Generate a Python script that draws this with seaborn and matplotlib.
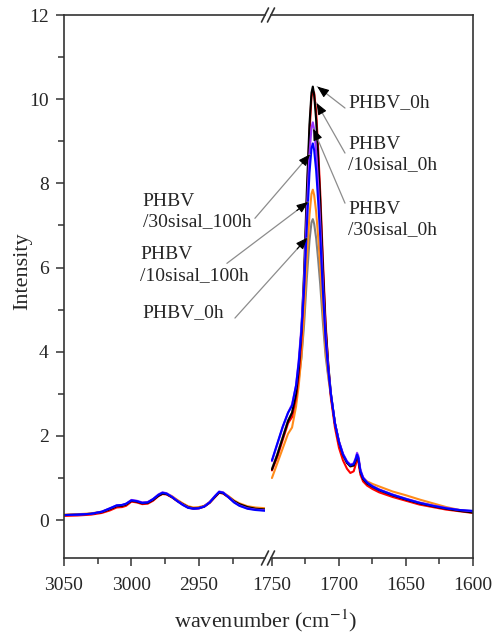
import numpy as np
import pandas as pd
import seaborn as sns
import matplotlib.pyplot as plt
from matplotlib.ticker import MultipleLocator
from matplotlib.lines import Line2D

sns.set_style("ticks")
plt.rcParams["font.family"] = ["Liberation Serif", "DejaVu Serif"]
plt.rcParams["mathtext.fontset"] = "stix"
plt.rcParams["font.size"] = 14

# wavenumber grids for the two parts of the broken axis
left_wn = [3050, 3040, 3030, 3022, 3016, 3011, 3007, 3004, 3000, 2996, 2992, 2988,
           2984, 2980, 2977, 2974, 2970, 2966, 2962, 2958, 2954, 2950, 2946, 2942,
           2938, 2935, 2932, 2928, 2924, 2920, 2914, 2908, 2900]
right_wn = [1750, 1746, 1742, 1738, 1735, 1732, 1730, 1728, 1726, 1724, 1722, 1720.5,
            1719.5, 1718.5, 1717, 1715.5, 1714, 1712, 1710, 1708, 1706, 1703, 1700,
            1697, 1694, 1691.5, 1689, 1687.5, 1686.5, 1685.5, 1684, 1682, 1679, 1675,
            1670, 1660, 1650, 1640, 1630, 1620, 1610, 1600]

# intensities, C-H region
gray_left = [0.12, 0.13, 0.15, 0.19, 0.26, 0.32, 0.34, 0.37, 0.45, 0.43, 0.40, 0.41, 0.48, 0.58, 0.63, 0.62, 0.55,
             0.46, 0.38, 0.31, 0.28, 0.29, 0.33, 0.42, 0.55, 0.65, 0.64, 0.55, 0.45, 0.38, 0.31, 0.27, 0.25]
orange_left = [0.13, 0.14, 0.16, 0.20, 0.27, 0.33, 0.35, 0.38, 0.46, 0.44, 0.41, 0.42, 0.49, 0.59, 0.64, 0.63, 0.57,
               0.48, 0.40, 0.33, 0.30, 0.31, 0.34, 0.43, 0.56, 0.66, 0.65, 0.57, 0.47, 0.40, 0.33, 0.30, 0.28]
red_left = [0.10, 0.11, 0.13, 0.17, 0.23, 0.30, 0.31, 0.34, 0.44, 0.42, 0.38, 0.39, 0.46, 0.57, 0.62, 0.61, 0.54,
            0.45, 0.37, 0.30, 0.27, 0.28, 0.32, 0.41, 0.55, 0.65, 0.63, 0.54, 0.44, 0.37, 0.30, 0.26, 0.24]
black_left = [0.12, 0.13, 0.15, 0.19, 0.26, 0.33, 0.34, 0.37, 0.46, 0.44, 0.40, 0.41, 0.48, 0.58, 0.63, 0.62, 0.55,
              0.46, 0.38, 0.31, 0.28, 0.29, 0.33, 0.42, 0.56, 0.66, 0.64, 0.55, 0.45, 0.38, 0.31, 0.27, 0.25]
purple_left = [0.12, 0.13, 0.15, 0.20, 0.28, 0.35, 0.36, 0.39, 0.48, 0.46, 0.42, 0.43, 0.50, 0.61, 0.66, 0.64, 0.56,
               0.46, 0.37, 0.30, 0.27, 0.28, 0.33, 0.43, 0.58, 0.68, 0.66, 0.55, 0.43, 0.35, 0.28, 0.25, 0.23]
blue_left = [0.12, 0.13, 0.15, 0.20, 0.28, 0.35, 0.36, 0.39, 0.47, 0.45, 0.41, 0.42, 0.50, 0.60, 0.65, 0.63, 0.55,
             0.45, 0.36, 0.29, 0.27, 0.28, 0.32, 0.42, 0.57, 0.67, 0.65, 0.54, 0.42, 0.34, 0.27, 0.24, 0.22]

# intensities, carbonyl region
gray_right = [1.22, 1.57, 1.97, 2.37, 2.55, 2.95, 3.34, 3.85, 4.65, 5.73, 6.64, 7.07, 7.15, 7.04, 6.69, 6.18, 5.61,
              4.7, 3.9, 3.4, 2.95, 2.3, 1.85, 1.55, 1.36, 1.29, 1.31, 1.43, 1.53, 1.46, 1.16, 0.99, 0.88, 0.8,
              0.72, 0.6, 0.5, 0.41, 0.34, 0.28, 0.23, 0.19]
orange_right = [1.00, 1.35, 1.7, 2.05, 2.2, 2.7, 3.2, 3.9, 4.9, 6.19, 7.25, 7.75, 7.85, 7.72, 7.32, 6.72, 6.06,
                5.0, 4.06, 3.46, 2.95, 2.3, 1.85, 1.55, 1.37, 1.27, 1.29, 1.4, 1.5, 1.44, 1.15, 1.0, 0.92, 0.86,
                0.8, 0.68, 0.59, 0.49, 0.4, 0.31, 0.24, 0.19]
red_right = [1.18, 1.5, 1.9, 2.3, 2.45, 2.9, 3.45, 4.3, 5.6, 7.5, 9.2, 10.05, 10.2, 10.15, 9.7, 8.8, 7.8,
             6.2, 4.7, 3.7, 2.9, 2.2, 1.72, 1.42, 1.22, 1.12, 1.16, 1.32, 1.45, 1.38, 1.08, 0.92, 0.82, 0.74,
             0.66, 0.55, 0.46, 0.37, 0.31, 0.25, 0.21, 0.17]
black_right = [1.20, 1.55, 1.95, 2.35, 2.55, 3.0, 3.6, 4.5, 5.9, 7.8, 9.4, 10.15, 10.3, 10.1, 9.5, 8.6, 7.6,
               6.0, 4.6, 3.7, 3.0, 2.3, 1.85, 1.55, 1.36, 1.28, 1.3, 1.42, 1.52, 1.45, 1.15, 0.98, 0.87, 0.79,
               0.71, 0.59, 0.49, 0.40, 0.33, 0.27, 0.22, 0.18]
purple_right = [1.40, 1.8, 2.2, 2.55, 2.75, 3.2, 3.8, 4.6, 5.7, 7.3, 8.7, 9.32, 9.45, 9.28, 8.75, 7.95, 7.07,
                5.65, 4.41, 3.62, 3.0, 2.3, 1.88, 1.58, 1.40, 1.32, 1.35, 1.48, 1.60, 1.52, 1.2, 1.02, 0.9, 0.81,
                0.73, 0.61, 0.51, 0.42, 0.35, 0.29, 0.24, 0.21]
blue_right = [1.42, 1.82, 2.22, 2.55, 2.72, 3.2, 3.75, 4.5, 5.5, 6.95, 8.25, 8.83, 8.95, 8.79, 8.3, 7.57, 6.75,
              5.45, 4.3, 3.57, 3.0, 2.3, 1.86, 1.56, 1.38, 1.30, 1.33, 1.45, 1.56, 1.48, 1.17, 1.0, 0.89, 0.8,
              0.72, 0.6, 0.5, 0.41, 0.34, 0.28, 0.24, 0.22]

series = [
    ("gray", "#808080", gray_left, gray_right),
    ("orange", "#ff8c1a", orange_left, orange_right),
    ("red", "#ff0000", red_left, red_right),
    ("black", "#000000", black_left, black_right),
    ("purple", "#9933ff", purple_left, purple_right),
    ("blue", "#0000ff", blue_left, blue_right),
]

# label text, arrow tip (wn, I), arrow tail (wn, I), text anchor (wn, I)
labels = ["PHBV_0h", "PHBV\n/10sisal_0h", "PHBV\n/30sisal_0h",
          "PHBV\n/30sisal_100h", "PHBV\n/10sisal_100h", "PHBV_0h"]
tips = [(1716.2, 10.3), (1716.7, 9.91), (1719.2, 9.3), (1721.6, 8.69), (1722.9, 7.56), (1723.6, 6.71)]
tails = [(1695.5, 9.79), (1695.5, 8.72), (1695.5, 7.53), (1762.7, 7.17), (1783.6, 6.10), (1777.6, 4.8)]
text_pos = [(1693.3, 9.93), (1693.3, 8.69), (1693.0, 7.13), (1846.3, 7.32), (1848.5, 6.06), (1846.3, 4.92)]

W, H = 493, 637
fig = plt.figure(figsize=(W / 100, H / 100), dpi=100)
bot = (H - 558) / H
hgt = (558 - 15) / H
ax1 = fig.add_axes([64 / W, bot, (265 - 64) / W, hgt])
ax2 = fig.add_axes([271 / W, bot, (473 - 271) / W, hgt], sharey=ax1)

for name, col, yl, yr in series:
    sns.lineplot(x=left_wn, y=yl, ax=ax1, color=col, lw=1.5, sort=False, estimator=None)
    sns.lineplot(x=right_wn, y=yr, ax=ax2, color=col, lw=1.5, sort=False, estimator=None)

ax1.set_xlim(3050, 2901)
ax2.set_xlim(1750.7, 1600)
ax1.set_ylim(-0.9, 12)
ax1.set_xticks([3050, 3000, 2950])
ax2.set_xticks([1750, 1700, 1650, 1600])
ax1.xaxis.set_minor_locator(MultipleLocator(25))
ax2.xaxis.set_minor_locator(MultipleLocator(25))
ax1.set_yticks([0, 2, 4, 6, 8, 10, 12])
ax1.yaxis.set_minor_locator(MultipleLocator(1))

spine_col = "#333333"
for ax in (ax1, ax2):
    for s in ax.spines.values():
        s.set_color(spine_col)
        s.set_linewidth(1.2)
    ax.tick_params(which="major", direction="out", length=6, width=1.1, color=spine_col,
                   labelsize=14, pad=5)
    ax.tick_params(which="minor", direction="out", length=4, width=1.1, color=spine_col)
    ax.tick_params(axis="x", which="major", length=5.5, pad=8)
    ax.set_xlabel("")
    ax.set_ylabel("")
ax1.spines["right"].set_visible(False)
ax2.spines["left"].set_visible(False)
ax2.tick_params(axis="y", which="both", left=False, labelleft=False)
ax1.set_xticklabels(["3050", "3000", "2950"])
ax2.set_xticklabels(["1750", "1700", "1650", "1600"])

# break marks on top and bottom axes
for yb in (15, 558):
    for xb in (265, 271):
        fig.add_artist(Line2D([(xb - 3.5) / W, (xb + 3.5) / W],
                              [1 - (yb + 7) / H, 1 - (yb - 7) / H],
                              color=spine_col, lw=1.2))

# labels with arrows
for lab, tip, tail, tp in zip(labels, tips, tails, text_pos):
    ax2.annotate("", xy=tip, xytext=tail, annotation_clip=False,
                 arrowprops=dict(arrowstyle="-", color="#8c8c8c", lw=0.9, shrinkA=0, shrinkB=0))
    near = (tip[0] + 0.14 * (tail[0] - tip[0]), tip[1] + 0.14 * (tail[1] - tip[1]))
    ax2.annotate("", xy=tip, xytext=near, annotation_clip=False,
                 arrowprops=dict(arrowstyle="-|>,head_length=0.5,head_width=0.2",
                                 color="black", lw=0.8, shrinkA=0, shrinkB=0))
    ax2.text(tp[0], tp[1], lab, ha="left", va="center", fontsize=14,
             linespacing=1.25, clip_on=False)

fig.text(22.5 / W, 1 - 271 / H, "Intensity", rotation=90, ha="center", va="center", fontsize=16)
fig.text(266 / W, 1 - 621 / H, "wavenumber (cm$^{-1}$)", ha="center", va="center", fontsize=16)

fig.savefig("out.png", dpi=100)
